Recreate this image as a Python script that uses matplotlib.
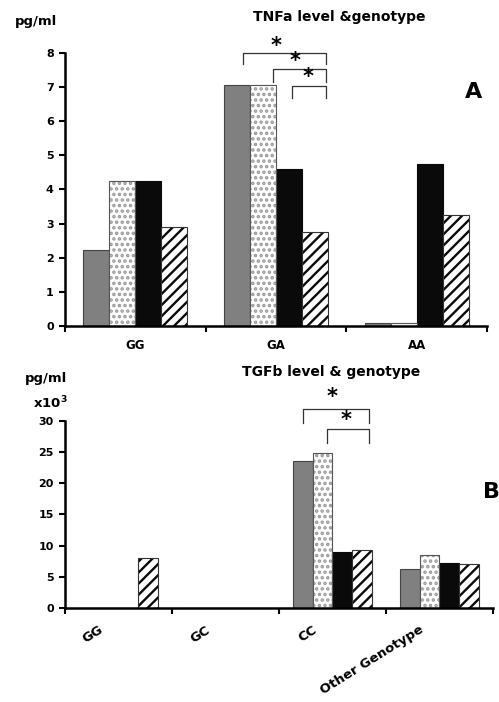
import matplotlib as mpl

mpl.use("Agg")

import matplotlib.pyplot as plt
import matplotlib.transforms as mtransforms
import numpy as np

# TNF-alpha panel (pg/ml)
TNF_GENOTYPES = ["GG", "GA", "AA"]
TNF_GRAY = [2.22, 7.06, 0.08]
TNF_DOTTED = [4.26, 7.06, 0.08]
TNF_BLACK = [4.26, 4.61, 4.75]
TNF_HATCHED = [2.91, 2.74, 3.25]

# TGF-beta panel (pg/ml x10^3)
TGF_GENOTYPES = ["GG", "GC", "CC", "Other Genotype"]
TGF_GRAY = [0, 0, 23.65, 6.3]
TGF_DOTTED = [0, 0, 24.8, 8.5]
TGF_BLACK = [0, 0, 9.03, 7.26]
TGF_HATCHED = [8.1, 0, 9.3, 7.1]

FONT = ["DejaVu Sans"]


def configure_matplotlib() -> None:
    mpl.rcParams.update(
        {
            "font.family": FONT,
            "font.weight": "bold",
            "hatch.linewidth": 1.7,
            "mathtext.default": "bf",
        }
    )


def draw_bars(ax, series, width):
    n = len(series[0])
    x = np.arange(n)
    styles = [
        dict(color="#808080", edgecolor="#444444", hatch=None, hcol=None),
        dict(color="white", edgecolor="#555555", hatch="...", hcol="#9a9a9a"),
        dict(color="#0a0a0a", edgecolor="#0a0a0a", hatch=None, hcol=None),
        dict(color="white", edgecolor="#333333", hatch="///", hcol="#0a0a0a"),
    ]
    centers = []
    for k, (vals, st) in enumerate(zip(series, styles)):
        pos = x + (k - 1.5) * width
        if st["hatch"]:
            # pattern layer, then outline on top
            ax.bar(pos, vals, width=width, color=st["color"], edgecolor=st["hcol"],
                   hatch=st["hatch"], linewidth=0, zorder=2)
            ax.bar(pos, vals, width=width, fill=False, edgecolor=st["edgecolor"],
                   linewidth=0.8, zorder=2.1)
        else:
            ax.bar(pos, vals, width=width, color=st["color"], edgecolor=st["edgecolor"],
                   linewidth=0.8, zorder=2)
        centers.append(pos)
    return centers


def style_axes(ax, n, ymax, ystep):
    for side in ("top", "right"):
        ax.spines[side].set_visible(False)
    for side in ("left", "bottom"):
        ax.spines[side].set_linewidth(1.8)
    ax.set_xlim(-0.5, n - 0.5)
    ax.set_ylim(0, ymax)
    ax.set_yticks(np.arange(0, ymax + ystep / 2, ystep))
    ax.tick_params(axis="y", direction="out", length=4, width=1.5, labelsize=8, pad=4)
    ax.set_xticks(np.arange(n))
    ax.set_xticks(np.arange(n + 1) - 0.5, minor=True)
    ax.tick_params(axis="x", which="major", length=0)
    ax.tick_params(axis="x", which="minor", direction="out", length=4, width=1.5)
    for lab in ax.get_yticklabels():
        lab.set_fontweight("bold")


def bracket(ax, x0, x1, ytop, drop, star_x, star_y):
    ax.plot([x0, x0, x1, x1], [ytop - drop, ytop, ytop, ytop - drop],
            color="#333333", lw=0.9, clip_on=False, zorder=3)
    ax.text(star_x, star_y, "*", ha="center", va="center", fontsize=15,
            fontweight="bold", clip_on=False)


def main() -> None:
    configure_matplotlib()
    fig = plt.figure(figsize=(4.99, 7.02), dpi=100)

    # ---- panel A ----
    ax1 = fig.add_axes([0.130, 0.5356, 0.846, 0.389])
    w = 0.185
    c = draw_bars(ax1, [TNF_GRAY, TNF_DOTTED, TNF_BLACK, TNF_HATCHED], w)
    style_axes(ax1, len(TNF_GENOTYPES), 8, 1)
    ax1.set_xticklabels(TNF_GENOTYPES, fontsize=8.5, fontweight="bold")
    ax1.tick_params(axis="x", which="major", pad=9)
    right = c[3][1] + w / 2 - 0.015
    bracket(ax1, c[0][1] + 0.04, right, 8.0, 0.32, 1.0, 8.2)
    bracket(ax1, c[1][1] + 0.07, right, 7.54, 0.38, 1.136, 7.76)
    bracket(ax1, c[2][1] + 0.02, right, 7.02, 0.33, 1.229, 7.29)

    fig.text(0.03, 0.969, "pg/ml", fontsize=9.5, fontweight="bold", va="center")
    fig.text(0.68, 0.976, "TNFa level &genotype", fontsize=10, fontweight="bold",
             ha="center", va="center")
    fig.text(0.948, 0.869, "A", fontsize=16, fontweight="bold", ha="center", va="center")

    # ---- panel B ----
    ax2 = fig.add_axes([0.130, 0.1339, 0.858, 0.2664])
    c2 = draw_bars(ax2, [TGF_GRAY, TGF_DOTTED, TGF_BLACK, TGF_HATCHED], w)
    style_axes(ax2, len(TGF_GENOTYPES), 30, 5)
    ax2.set_xticklabels(TGF_GENOTYPES, fontsize=9.5, fontweight="bold",
                        rotation=32, ha="right", va="top", rotation_mode="anchor")
    ax2.tick_params(axis="x", which="major", pad=11)
    offset = mtransforms.ScaledTranslation(-20 / 100, 0, fig.dpi_scale_trans)
    for lab in ax2.get_xticklabels():
        lab.set_transform(lab.get_transform() + offset)
    right2 = c2[3][2] + w / 2 - 0.03
    bracket(ax2, c2[0][2], right2, 31.9, 2.2, 1.995, 33.8)
    bracket(ax2, c2[1][2] + 0.04, right2, 28.7, 2.2, 2.126, 30.1)

    fig.text(0.05, 0.4615, "pg/ml", fontsize=9.5, fontweight="bold", va="center")
    fig.text(0.066, 0.426, r"x10$^{3}$", fontsize=9.5, fontweight="bold",
             va="center")
    fig.text(0.663, 0.47, "TGFb level & genotype", fontsize=10, fontweight="bold",
             ha="center", va="center")
    fig.text(0.984, 0.299, "B", fontsize=16, fontweight="bold", ha="center", va="center")

    fig.savefig("out.png", dpi=100)
    plt.close(fig)


if __name__ == "__main__":
    main()
